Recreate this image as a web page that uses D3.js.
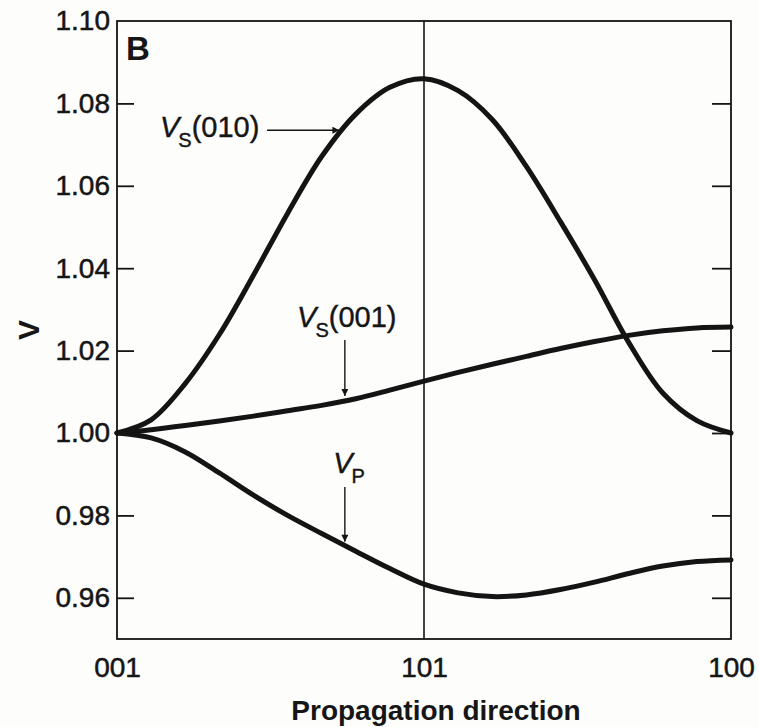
<!DOCTYPE html>
<html>
<head>
<meta charset="utf-8">
<script src="https://cdn.jsdelivr.net/npm/d3@7"></script>
<style>
  html, body { margin: 0; padding: 0; background: #fdfdfc; }
  svg { display: block; }
  text { font-family: "Liberation Sans", Arial, Helvetica, sans-serif; fill: #161616; }
</style>
</head>
<body>
<svg id="chart" width="759" height="727"></svg>
<script>
// ---- data (angle from [001] toward [100], degrees) ----
const angles = [0,5,10,15,20,25,30,35,40,45,50,55,60,65,70,75,80,85,90];
const vs010  = [1.000,1.0032,1.0120,1.0239,1.0383,1.0533,1.0671,1.0774,1.0839,1.0860,1.0831,1.0761,1.0647,1.0513,1.0372,1.0220,1.0097,1.0030,1.0000];
const vs001  = [1.000,1.0008,1.0018,1.0029,1.0041,1.0054,1.0067,1.0083,1.0104,1.0126,1.0147,1.0167,1.0186,1.0205,1.0222,1.0237,1.0248,1.0255,1.0257];
const vp     = [1.000,0.9988,0.9954,0.9903,0.9849,0.9800,0.9756,0.9713,0.9671,0.9633,0.9612,0.9603,0.9607,0.9620,0.9638,0.9659,0.9677,0.9688,0.9692];
const xTickValues = [0,45,90];
const xTickLabels = ["001","101","100"];
const yTickValues = [0.96,0.98,1.00,1.02,1.04,1.06,1.08,1.10];

const svg = d3.select("#chart");
const L = 117, R = 731, T = 21, B = 639;
const x = d3.scaleLinear().domain([0,90]).range([L,R]);
const y = d3.scaleLinear().domain([0.95,1.10]).range([B,T]);
const ink = "#141414";

// vertical reference line at [101]
svg.append("line")
  .attr("x1", x(45)).attr("x2", x(45)).attr("y1", T).attr("y2", B)
  .attr("stroke", ink).attr("stroke-width", 1.6);

// left axis (ticks inward)
const yAxisL = d3.axisLeft(y).tickValues(yTickValues).tickSize(-17).tickPadding(7)
  .tickFormat(d3.format(".2f"));
const gL = svg.append("g").attr("transform", `translate(${L},0)`).call(yAxisL);
gL.select(".domain").remove();
gL.selectAll(".tick line").attr("stroke", ink).attr("stroke-width", 1.8)
  .filter(d => d === 1.10).remove();
gL.selectAll(".tick text").attr("font-size", 28).attr("fill", ink)
  .attr("stroke", ink).attr("stroke-width", 0.5)
  .style("font-family", '"Liberation Sans", Arial, sans-serif');

// right axis (ticks inward, no labels)
const yAxisR = d3.axisRight(y).tickValues(yTickValues.filter(v => v < 1.10)).tickSize(-19).tickFormat("");
const gR = svg.append("g").attr("transform", `translate(${R},0)`).call(yAxisR);
gR.select(".domain").remove();
gR.selectAll(".tick line").attr("stroke", ink).attr("stroke-width", 1.8);

// bottom axis labels
const xAxis = d3.axisBottom(x).tickValues(xTickValues).tickSize(0).tickPadding(18)
  .tickFormat((d,i) => xTickLabels[i]);
const gB = svg.append("g").attr("transform", `translate(0,${B})`).call(xAxis);
gB.select(".domain").remove();
gB.selectAll(".tick text").attr("font-size", 28).attr("fill", ink)
  .attr("stroke", ink).attr("stroke-width", 0.5)
  .style("font-family", '"Liberation Sans", Arial, sans-serif');

// frame
svg.append("rect")
  .attr("x", L).attr("y", T).attr("width", R - L).attr("height", B - T)
  .attr("fill", "none").attr("stroke", ink).attr("stroke-width", 1.8);

// curves
const line = d3.line().x(d => x(d[0])).y(d => y(d[1])).curve(d3.curveCatmullRom.alpha(0.5));
[vs010, vs001, vp].forEach(series => {
  svg.append("path")
    .datum(angles.map((a,i) => [a, series[i]]))
    .attr("d", line)
    .attr("fill", "none").attr("stroke", ink).attr("stroke-width", 5)
    .attr("stroke-linecap", "round").attr("stroke-linejoin", "round");
});

// arrowhead marker
svg.append("defs").append("marker")
  .attr("id", "ah").attr("viewBox", "0 0 10 10").attr("refX", 10).attr("refY", 5)
  .attr("markerWidth", 9).attr("markerHeight", 7).attr("markerUnits", "userSpaceOnUse")
  .attr("orient", "auto")
  .append("path").attr("d", "M0,0 L10,5 L0,10 Z").attr("fill", ink);

function label(a, v, sub, rest) {
  const t = svg.append("text").attr("x", x(a)).attr("y", y(v)).attr("font-size", 29)
    .attr("stroke", ink).attr("stroke-width", 0.4);
  t.append("tspan").text("V").attr("font-style", "italic");
  t.append("tspan").text(sub).attr("font-size", 20).attr("dy", 10).attr("dx", -1);
  if (rest) t.append("tspan").text(rest).attr("dy", -10);
}
function arrow(a1, v1, a2, v2) {
  svg.append("line")
    .attr("x1", x(a1)).attr("y1", y(v1)).attr("x2", x(a2)).attr("y2", y(v2))
    .attr("stroke", ink).attr("stroke-width", 1.4).attr("marker-end", "url(#ah)");
}

label(6.3, 1.0718, "S", "(010)");
arrow(22.0, 1.0735, 32.6, 1.0735);
label(26.4, 1.0257, "S", "(001)");
arrow(33.4, 1.0226, 33.4, 1.0090);
label(31.7, 0.9903, "P", null);
arrow(33.4, 0.9869, 33.4, 0.9736);

// panel letter
svg.append("text").attr("x", 126).attr("y", 60).attr("font-size", 33)
  .attr("font-weight", "bold").text("B");

// axis titles
svg.append("text").attr("x", 436).attr("y", 720).attr("text-anchor", "middle")
  .attr("font-size", 28).attr("font-weight", "bold").text("Propagation direction");
svg.append("text").attr("transform", `translate(39,${(T + B) / 2}) rotate(-90)`)
  .attr("text-anchor", "middle").attr("font-size", 30).attr("font-weight", "bold").text("V");
</script>
</body>
</html>
